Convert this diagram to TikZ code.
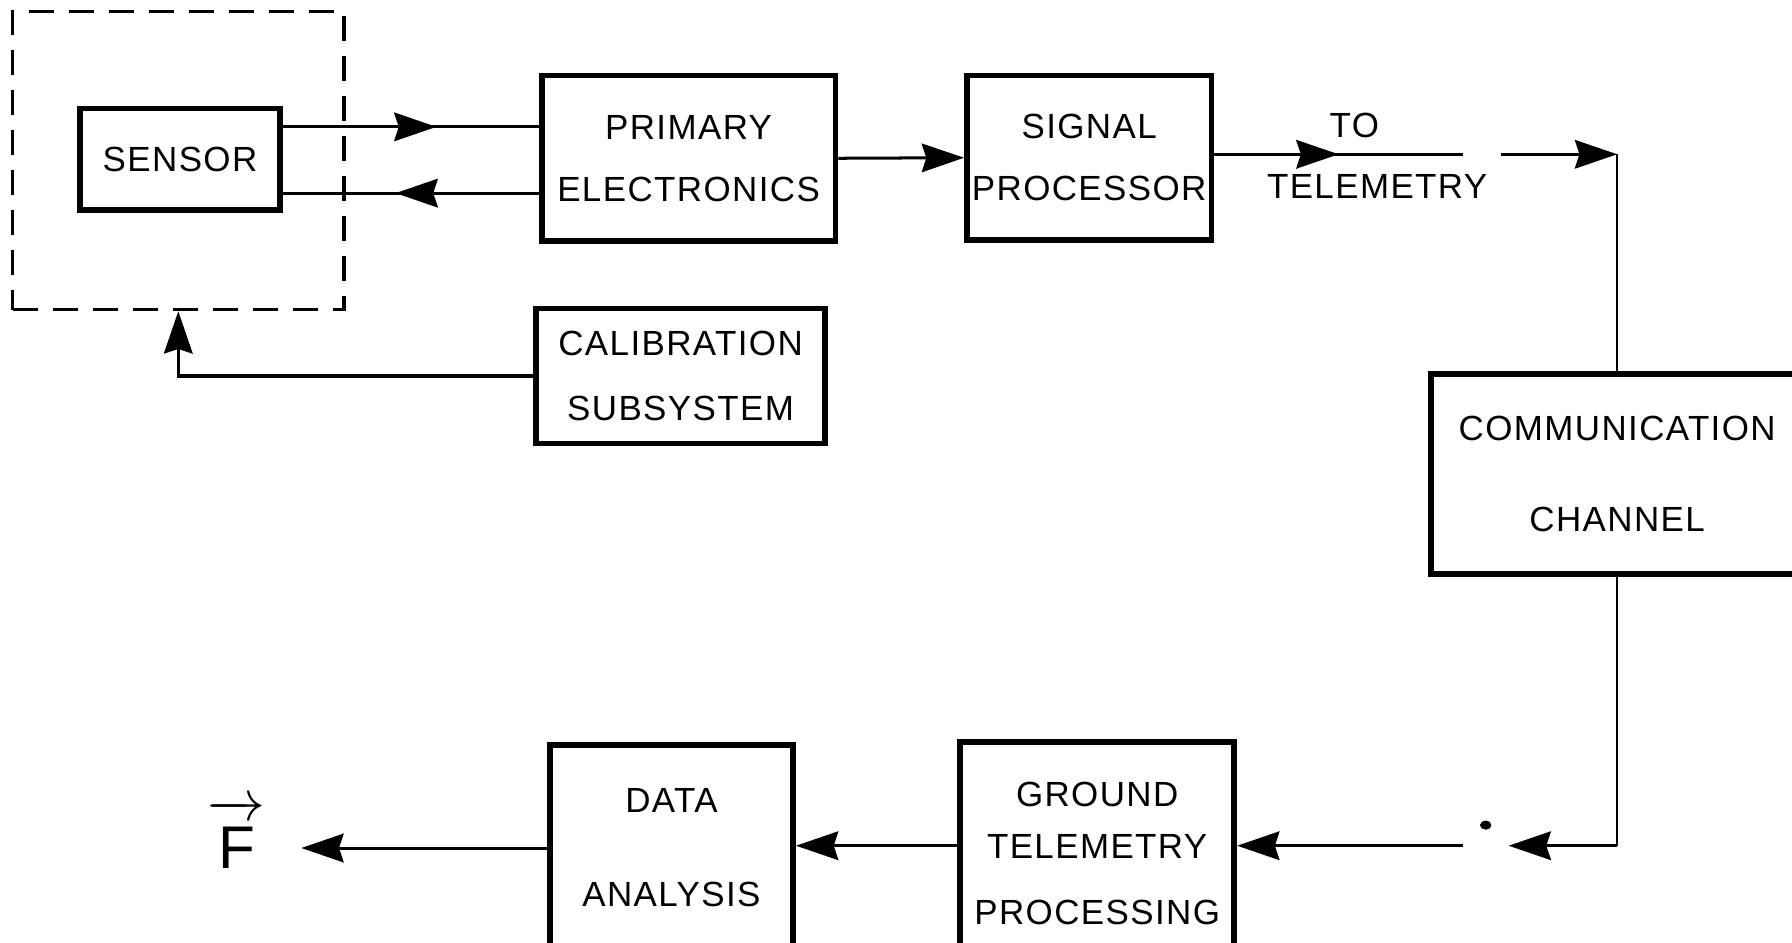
\documentclass[tikz,border=0pt]{standalone}
\usepackage{fontspec}
\setmainfont{Liberation Sans}[LetterSpace=4]
\usetikzlibrary{arrows.meta,decorations.markings}

\begin{document}
\begin{tikzpicture}[line width=0.75pt,
	block/.style={draw,line width=1.4pt,align=center,inner sep=0pt,font=\fontsize{8.7}{15.5}\selectfont},
	lbl/.style={font=\fontsize{8.7}{15.5}\selectfont},
	tip/.style={-{Stealth[length=0.37cm,width=0.25cm,inset=0.04cm]}},
	midtip/.style={postaction={decorate},decoration={markings,mark=at position #1 with {\arrow{Stealth[length=0.37cm,width=0.25cm,inset=0.04cm]}}}}]
	\useasboundingbox (0,0) rectangle (15.68,8.25);

	% Blocks
	\node[draw,dash pattern=on 0.22cm off 0.13cm,minimum width=2.90cm,minimum height=2.61cm] (frame) at (1.56,6.845) {};
	\node[block,minimum width=1.75cm,minimum height=0.89cm] (sensor) at (1.575,6.855) {SENSOR};
	\node[block,minimum width=2.57cm,minimum height=1.45cm] (primary) at (6.025,6.865) {PRIMARY\\ELECTRONICS};
	\node[block,minimum width=2.14cm,minimum height=1.44cm] (signal) at (9.53,6.87) {SIGNAL\\PROCESSOR};
	\node[block,minimum width=2.53cm,minimum height=1.18cm] (calib) at (5.955,4.96) {CALIBRATION\\[0.7pt]SUBSYSTEM};
	\node[block,minimum width=3.26cm,minimum height=1.75cm] (comm) at (14.15,4.105) {COMMUNICATION\\[7.2pt]CHANNEL};
	\node[block,minimum width=2.40cm,minimum height=1.96cm] (ground) at (9.60,0.78) {GROUND\\[-2.5pt]TELEMETRY\\[0.9pt]PROCESSING};
	\node[block,minimum width=2.13cm,minimum height=1.79cm] (data) at (5.875,0.835) {DATA\\[8pt]ANALYSIS};
	\node[anchor=base,inner xsep=0.3cm,font=\fontsize{15}{18}\selectfont] (force) at (2.07,0.65) {$\overrightarrow{\rule{0pt}{13pt}\mbox{\,F\,}}$};

	% Labels
	\node[lbl] (to) at (11.85,7.15) {TO};
	\node[lbl] (telem) at (12.05,6.62) {TELEMETRY};

	% Levels and breaks
	\coordinate (upy) at (0,7.14);
	\coordinate (dny) at (0,6.56);
	\coordinate (gapa) at (12.80,6.90);
	\coordinate (gapb) at (13.13,6.90);
	\coordinate (turn) at (14.15,6.90);
	\coordinate (bend) at (14.15,0.85);
	\coordinate (gapc) at (13.20,0.85);
	\coordinate (gapd) at (12.80,0.85);
	\coordinate (fy) at (0,0.83);

	% Connectors
	\draw[midtip=0.6] (sensor.east |- upy) -- (primary.west |- upy);
	\draw[midtip=0.56] (primary.west |- dny) -- (sensor.east |- dny);
	\draw[tip] (primary.east) -- (signal.west);
	\draw[midtip=0.5] (signal.east |- gapa) -- (gapa);
	\draw[tip] (gapb) -- (turn);
	\draw[line width=0.4pt] (turn) -- (comm.north);
	\draw[tip] (calib.west) -| (frame.south);

	\draw[line width=0.4pt] (comm.south) -- (bend);
	\draw[tip] (bend) -- (gapc);
	\fill (13.00,1.03) ellipse (0.05 and 0.04);
	\draw[tip] (gapd) -- (ground.east |- gapd);
	\draw[tip] (ground.west |- gapd) -- (data.east |- gapd);
	\draw[tip] (data.west |- fy) -- (force.east |- fy);
\end{tikzpicture}
\end{document}
